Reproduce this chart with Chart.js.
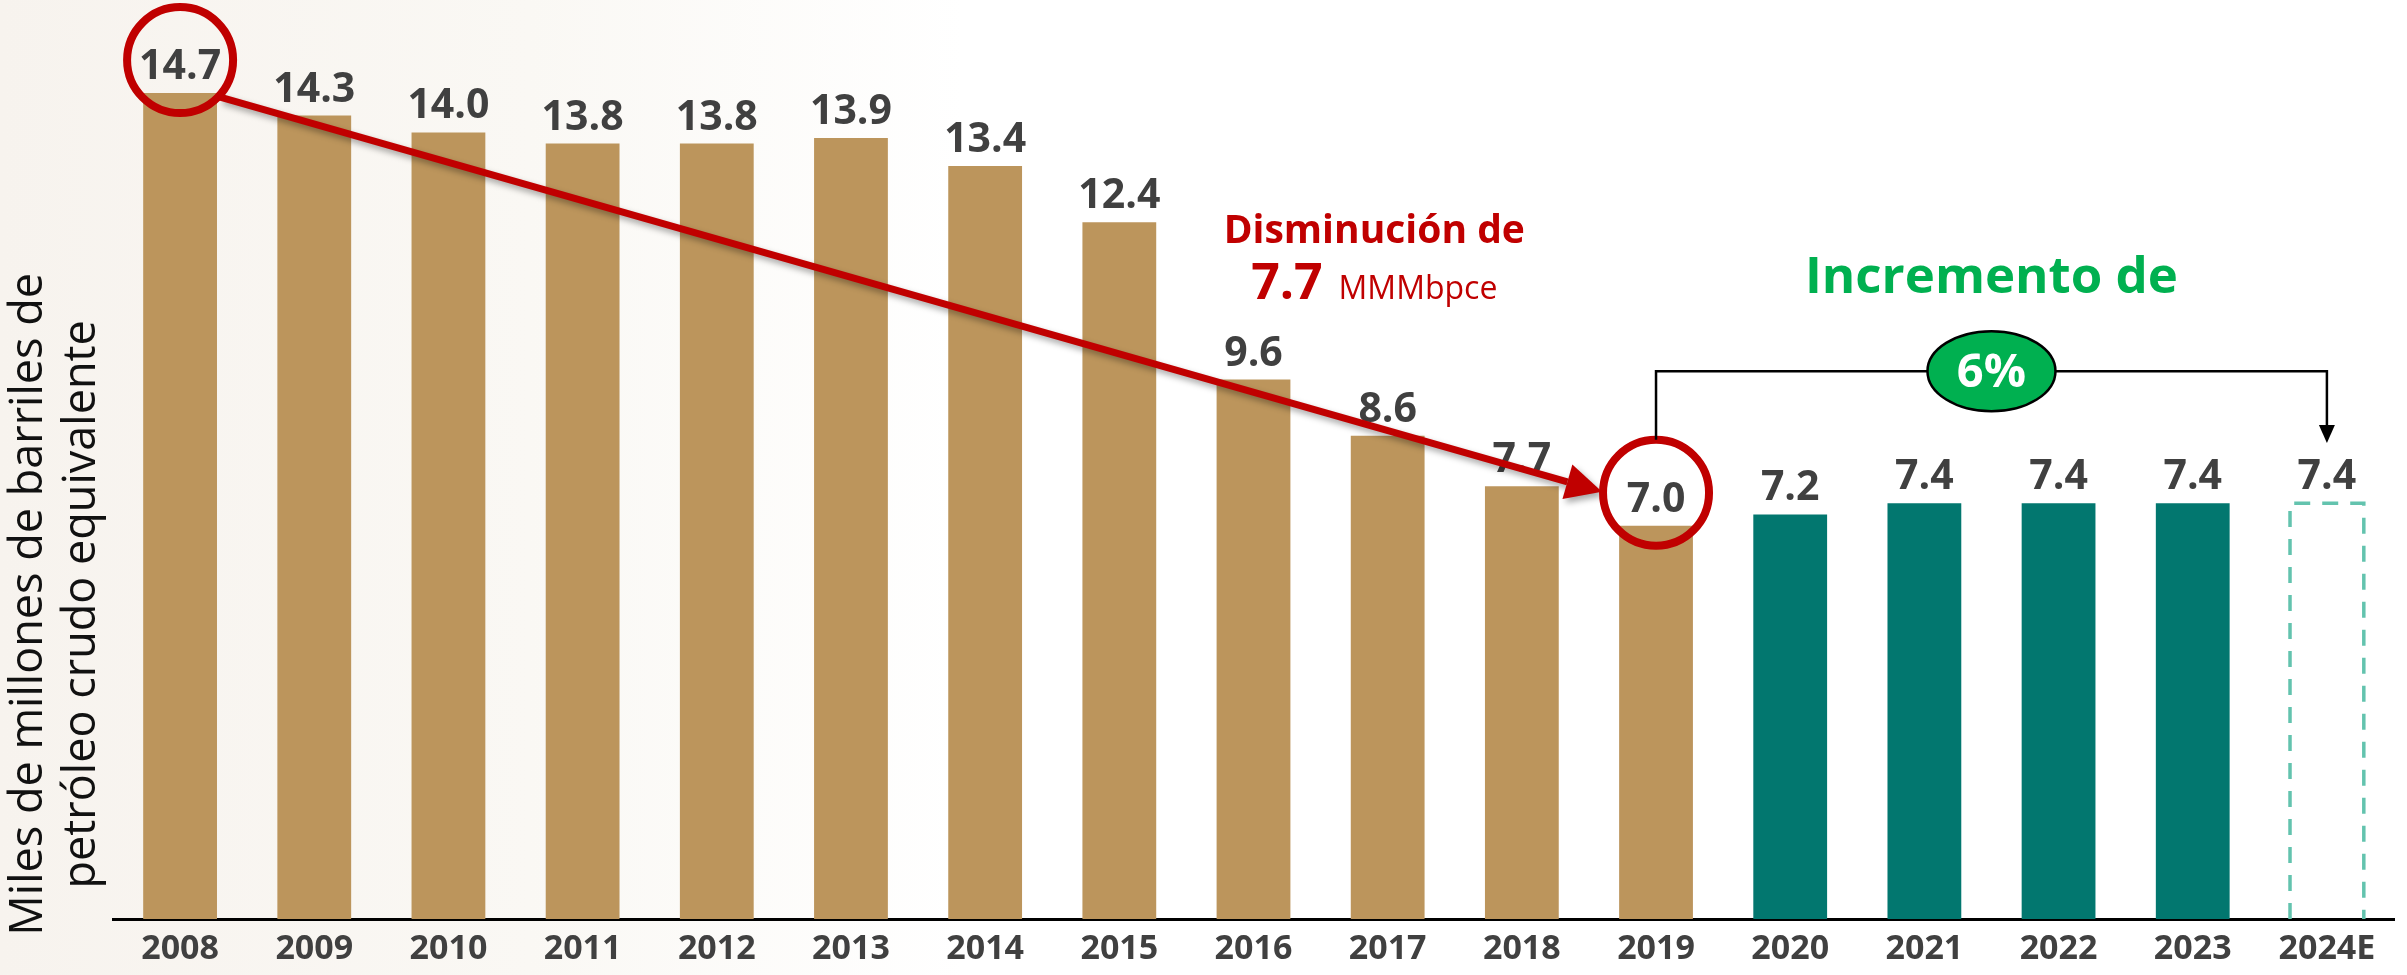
<!DOCTYPE html>
<html lang="es">
<head>
<meta charset="utf-8">
<title>Reservas</title>
<script src="https://cdn.jsdelivr.net/npm/chart.js@4.4.1/dist/chart.umd.min.js"></script>
<style>
  html, body { margin: 0; padding: 0; }
  body { background: linear-gradient(90deg, #f7f3ee 0%, #faf8f4 22%, #ffffff 40%); }
  #wrap { position: relative; width: 2407px; height: 975px; }
</style>
</head>
<body>
<div id="wrap"><canvas id="mychart"></canvas></div>
<script>
/* global Chart */
// Reservas por año (miles de millones de barriles de petróleo crudo equivalente)
const years = ['2008', '2009', '2010', '2011', '2012', '2013', '2014', '2015', '2016',
               '2017', '2018', '2019', '2020', '2021', '2022', '2023', '2024E'];
const reserves = [14.7, 14.3, 14.0, 13.8, 13.8, 13.9, 13.4, 12.4, 9.6,
                  8.6, 7.7, 7.0, 7.2, 7.4, 7.4, 7.4, 7.4];

const TAN = '#BC955C';
const TEAL = '#02776F';
const RED = '#C00000';
const GREEN = '#00B050';
const LABEL = '#404040';
const FONT = "'Open Sans', sans-serif";

// gold up to 2019, teal from 2020, the estimate is only drawn as a dashed box
const barColors = years.map(function (y) {
    if (y === '2024E') return 'rgba(0,0,0,0)';
    return parseInt(y) <= 2019 ? TAN : TEAL;
});

function arrow(ctx, x1, y1, x2, y2, lw, headLen, headHalf, color) {
    const a = Math.atan2(y2 - y1, x2 - x1);
    const bx = x2 - headLen * Math.cos(a);
    const by = y2 - headLen * Math.sin(a);
    ctx.strokeStyle = color;
    ctx.fillStyle = color;
    ctx.lineWidth = lw;
    ctx.beginPath();
    ctx.moveTo(x1, y1);
    ctx.lineTo(bx, by);
    ctx.stroke();
    ctx.beginPath();
    ctx.moveTo(x2, y2);
    ctx.lineTo(bx + headHalf * Math.sin(a), by - headHalf * Math.cos(a));
    ctx.lineTo(bx - headHalf * Math.sin(a), by + headHalf * Math.cos(a));
    ctx.closePath();
    ctx.fill();
}

// rotated two line title for the (hidden) y axis
const yTitle = {
    id: 'yTitle',
    afterDraw(chart) {
        const ctx = chart.ctx;
        const cy = chart.scales.y.getPixelForValue(5.6);
        const left = chart.chartArea.left;
        ctx.save();
        ctx.font = '45px ' + FONT;
        ctx.fillStyle = '#111';
        ctx.textAlign = 'center';
        ctx.textBaseline = 'middle';
        [['Miles de millones de barriles de', left - 84],
         ['petróleo crudo equivalente', left - 31]].forEach(function (l) {
            ctx.save();
            ctx.translate(l[1], cy);
            ctx.rotate(-Math.PI / 2);
            ctx.fillText(l[0], 0, 0);
            ctx.restore();
        });
        ctx.restore();
    }
};

// dashed outline for the estimate and the value above every bar
const barLabels = {
    id: 'barLabels',
    afterDatasetsDraw(chart) {
        const ctx = chart.ctx;
        const meta = chart.getDatasetMeta(0);
        ctx.save();
        const est = meta.data[years.indexOf('2024E')];
        const p = est.getProps(['x', 'y', 'base', 'width'], true);
        ctx.strokeStyle = '#63C3AE';
        ctx.lineWidth = 3.5;
        ctx.setLineDash([16, 12]);
        ctx.beginPath();
        ctx.moveTo(p.x - p.width / 2, p.base);
        ctx.lineTo(p.x - p.width / 2, p.y);
        ctx.lineTo(p.x + p.width / 2, p.y);
        ctx.lineTo(p.x + p.width / 2, p.base);
        ctx.stroke();
        ctx.setLineDash([]);

        ctx.font = 'bold 41px ' + FONT;
        ctx.fillStyle = LABEL;
        ctx.textAlign = 'center';
        ctx.textBaseline = 'alphabetic';
        meta.data.forEach(function (bar, i) {
            ctx.fillText(reserves[i].toFixed(1), bar.x, bar.y - 14);
        });
        ctx.restore();
    }
};

// circles, arrows and texts drawn over the bars
const notes = {
    id: 'notes',
    afterDatasetsDraw(chart) {
        const ctx = chart.ctx;
        const xs = chart.scales.x;
        const ys = chart.scales.y;
        const meta = chart.getDatasetMeta(0);
        const first = meta.data[0];
        const low = meta.data[11];
        const est = meta.data[16];
        const c1 = { x: first.x, y: first.y - 33 };
        const c2 = { x: low.x, y: low.y - 33 };
        const r = 53;
        ctx.save();

        // red arrow with a soft shadow
        ctx.shadowColor = 'rgba(0,0,0,0.35)';
        ctx.shadowBlur = 6;
        ctx.shadowOffsetX = 3;
        ctx.shadowOffsetY = 4;
        arrow(ctx, c1.x + 40, c1.y + 37, c2.x - 54, c2.y - 1, 7, 36, 18, RED);
        ctx.shadowColor = 'rgba(0,0,0,0)';

        ctx.strokeStyle = RED;
        ctx.lineWidth = 8;
        [c1, c2].forEach(function (c) {
            ctx.beginPath();
            ctx.arc(c.x, c.y, r, 0, Math.PI * 2);
            ctx.stroke();
        });

        // Disminución de 7.7 MMMbpce
        ctx.fillStyle = RED;
        ctx.textAlign = 'center';
        ctx.font = 'bold 39px ' + FONT;
        const dx = xs.getPixelForValue(8.9);
        ctx.fillText('Disminución de', dx, ys.getPixelForValue(12.04));
        ctx.font = 'bold 50px ' + FONT;
        const w1 = ctx.measureText('7.7').width;
        ctx.font = '32px ' + FONT;
        const w2 = ctx.measureText('MMMbpce').width;
        const gap = 16;
        const sx = dx - (w1 + gap + w2) / 2;
        const by = ys.getPixelForValue(11.04);
        ctx.textAlign = 'left';
        ctx.font = 'bold 50px ' + FONT;
        ctx.fillText('7.7', sx, by);
        ctx.font = '32px ' + FONT;
        ctx.fillText('MMMbpce', sx + w1 + gap, by);

        // Incremento de 6%
        const mx = xs.getPixelForValue(13.5);
        ctx.textAlign = 'center';
        ctx.fillStyle = GREEN;
        ctx.font = 'bold 51px ' + FONT;
        ctx.fillText('Incremento de', mx, ys.getPixelForValue(11.15));

        const ly = ys.getPixelForValue(9.75);
        const tip = ys.getPixelForValue(8.47);
        ctx.strokeStyle = '#000';
        ctx.lineWidth = 2.5;
        ctx.beginPath();
        ctx.moveTo(c2.x, c2.y - r);
        ctx.lineTo(c2.x, ly);
        ctx.lineTo(est.x, ly);
        ctx.lineTo(est.x, tip - 14);
        ctx.stroke();
        ctx.fillStyle = '#000';
        ctx.beginPath();
        ctx.moveTo(est.x, tip);
        ctx.lineTo(est.x - 8, tip - 18);
        ctx.lineTo(est.x + 8, tip - 18);
        ctx.closePath();
        ctx.fill();

        ctx.beginPath();
        ctx.ellipse(mx, ly, 64, 40, 0, 0, Math.PI * 2);
        ctx.fillStyle = GREEN;
        ctx.fill();
        ctx.stroke();
        ctx.fillStyle = '#fff';
        ctx.font = 'bold 47px ' + FONT;
        ctx.textBaseline = 'middle';
        ctx.fillText('6%', mx, ly + 2);
        ctx.restore();
    }
};

Chart.defaults.font.family = FONT;

const ctx = document.getElementById('mychart').getContext('2d');
const myChart = new Chart(ctx, {
    type: 'bar',
    data: {
        labels: years,
        datasets: [{
            label: 'Reservas',
            data: reserves,
            backgroundColor: barColors,
            borderWidth: 0,
            categoryPercentage: 1,
            barPercentage: 0.55
        }]
    },
    options: {
        responsive: true,
        maintainAspectRatio: false,
        animation: false,
        layout: {
            padding: { left: 113, right: 13, top: 20, bottom: -4 }
        },
        plugins: {
            legend: { display: false },
            tooltip: { enabled: false }
        },
        scales: {
            x: {
                grid: { display: false, drawTicks: false },
                border: { display: true, color: '#000', width: 3 },
                ticks: {
                    color: LABEL,
                    padding: 13,
                    font: { size: 34, weight: 'bold', lineHeight: 1 }
                }
            },
            y: {
                display: false,
                min: 0,
                max: 16
            }
        }
    },
    plugins: [yTitle, barLabels, notes]
});
</script>
</body>
</html>
